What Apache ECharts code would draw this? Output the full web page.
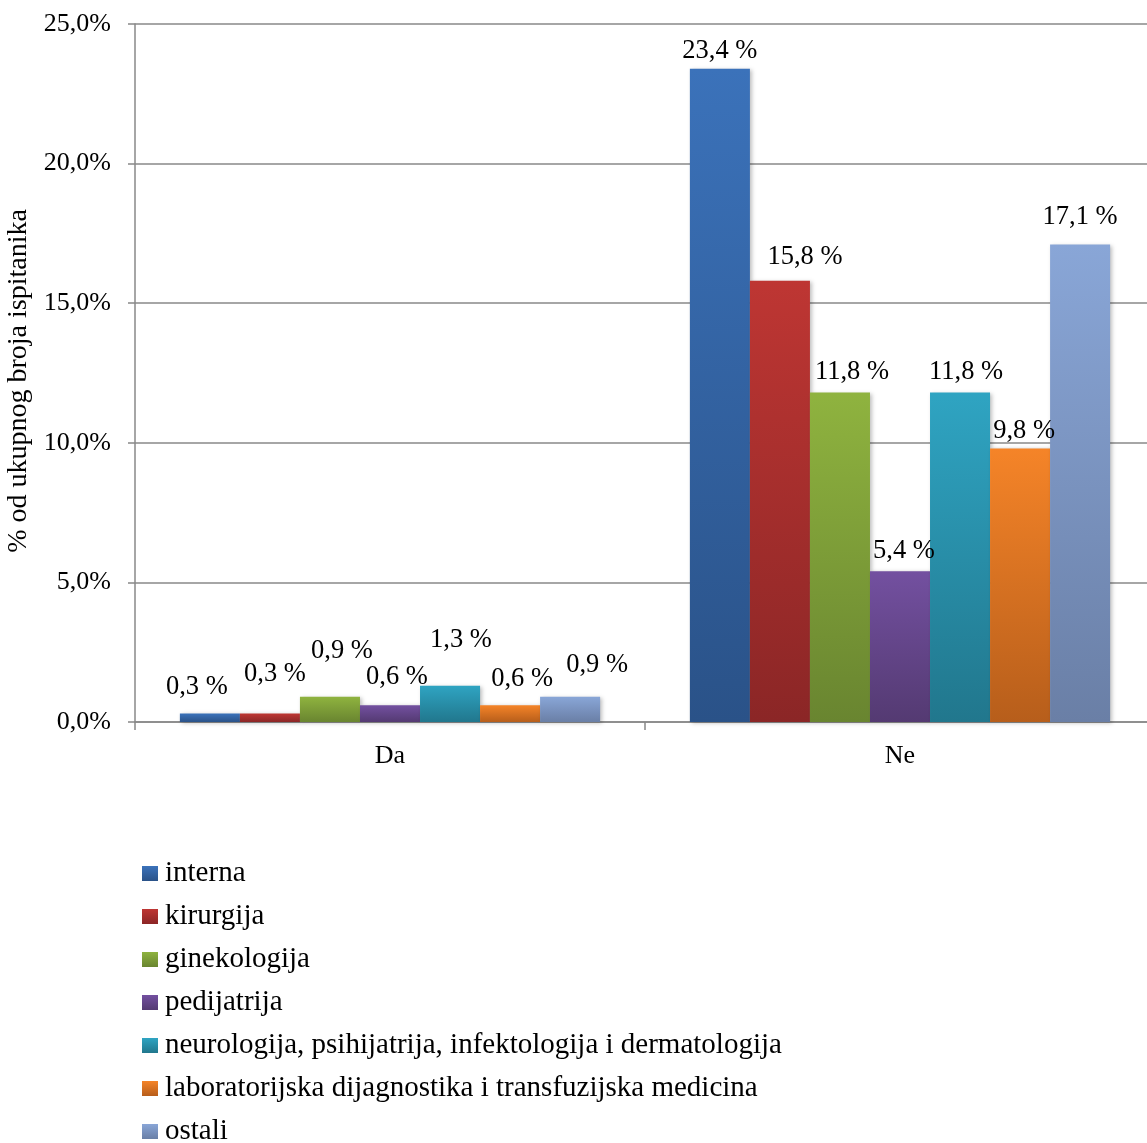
<!DOCTYPE html>
<html>
<head>
<meta charset="utf-8">
<script src="https://cdn.jsdelivr.net/npm/echarts@6/dist/echarts.min.js"></script>
<style>html,body{margin:0;padding:0;background:#fff;}#c{width:1147px;height:1143px;}</style>
</head>
<body>
<div id="c"></div>
<script>
const categories = ['Da', 'Ne'];
const seriesNames = [
  'interna',
  'kirurgija',
  'ginekologija',
  'pedijatrija',
  'neurologija, psihijatrija, infektologija i dermatologija',
  'laboratorijska dijagnostika i transfuzijska medicina',
  'ostali'
];
const interna = [0.3, 23.4];
const kirurgija = [0.3, 15.8];
const ginekologija = [0.9, 11.8];
const pedijatrija = [0.6, 5.4];
const neuro = [1.3, 11.8];
const laboratorij = [0.6, 9.8];
const ostali = [0.9, 17.1];
const yTicks = [0, 5, 10, 15, 20, 25];

const seriesValues = [interna, kirurgija, ginekologija, pedijatrija, neuro, laboratorij, ostali];
// gradient colours (top, bottom)
const colours = [
  ['#3B72BA', '#2A5288'],
  ['#BE3633', '#8B2626'],
  ['#8FB33F', '#698530'],
  ['#7350A0', '#543A72'],
  ['#2FA4C2', '#21778D'],
  ['#F58428', '#B75E1B'],
  ['#89A6D7', '#6A7FA6']
];
// label nudges [dx, dy] per series for each category (manual label placement in original)
const labelShift = [
  [[-13, -9], [0, 0]],
  [[5, -22], [25, -6]],
  [[12, -28], [12, -3]],
  [[7, -11], [4, -3]],
  [[11, -28], [6, -3]],
  [[12, -9], [4, 0]],
  [[27, -14], [0, -10]]
];

const fmt = v => v.toFixed(1).replace('.', ',');
const FONT = '"Liberation Serif", "Times New Roman", serif';

const series = seriesNames.map((name, i) => ({
  name: name,
  type: 'bar',
  barGap: '0%',
  barCategoryGap: '17.6%',
  data: seriesValues[i].map((v, j) => ({
    value: v,
    label: { offset: labelShift[i][j] }
  })),
  itemStyle: {
    color: new echarts.graphic.LinearGradient(0, 0, 0, 1, [
      { offset: 0, color: colours[i][0] },
      { offset: 1, color: colours[i][1] }
    ]),
    shadowColor: 'rgba(0,0,0,0.25)',
    shadowBlur: 4,
    shadowOffsetX: 2,
    shadowOffsetY: 1
  },
  label: {
    show: true,
    position: 'top',
    distance: 4,
    color: '#000',
    fontFamily: FONT,
    fontSize: 26.5,
    formatter: p => fmt(p.value) + ' %'
  }
}));

const chart = echarts.init(document.getElementById('c'));
chart.setOption({
  animation: false,
  backgroundColor: '#fff',
  textStyle: { fontFamily: FONT },
  grid: { left: 135, right: -8, top: 24, bottom: 421, containLabel: false, outerBoundsMode: 'none' },
  legend: {
    orient: 'vertical',
    left: 137,
    top: 854,
    height: 289,
    itemWidth: 16,
    itemHeight: 15,
    itemGap: 14,
    itemStyle: { shadowBlur: 0, shadowOffsetX: 0, shadowOffsetY: 0 },
    icon: 'rect',
    textStyle: { fontFamily: FONT, fontSize: 29, color: '#000', padding: [0, 0, 0, 2] },
    data: seriesNames
  },
  xAxis: {
    type: 'category',
    data: categories,
    axisLine: { lineStyle: { color: '#888', width: 1.5 } },
    axisTick: { show: true, length: 8, lineStyle: { color: '#888', width: 1.5 } },
    axisLabel: { color: '#000', fontFamily: FONT, fontSize: 26, margin: 21 }
  },
  yAxis: {
    type: 'value',
    min: yTicks[0],
    max: yTicks[yTicks.length - 1],
    interval: yTicks[1] - yTicks[0],
    name: '% od ukupnog broja ispitanika',
    nameLocation: 'middle',
    nameGap: 94,
    nameRotate: 90,
    nameTextStyle: { color: '#000', fontFamily: FONT, fontSize: 28, padding: [0, 16, 0, 0] },
    axisLine: { show: true, lineStyle: { color: '#888', width: 1.5 } },
    axisTick: { show: true, length: 7, lineStyle: { color: '#888', width: 1.5 } },
    splitLine: { show: true, lineStyle: { color: '#888', width: 1.5 } },
    axisLabel: { color: '#000', fontFamily: FONT, fontSize: 26, margin: 24, formatter: v => fmt(v) + '%' }
  },
  series: series
});
</script>
</body>
</html>
